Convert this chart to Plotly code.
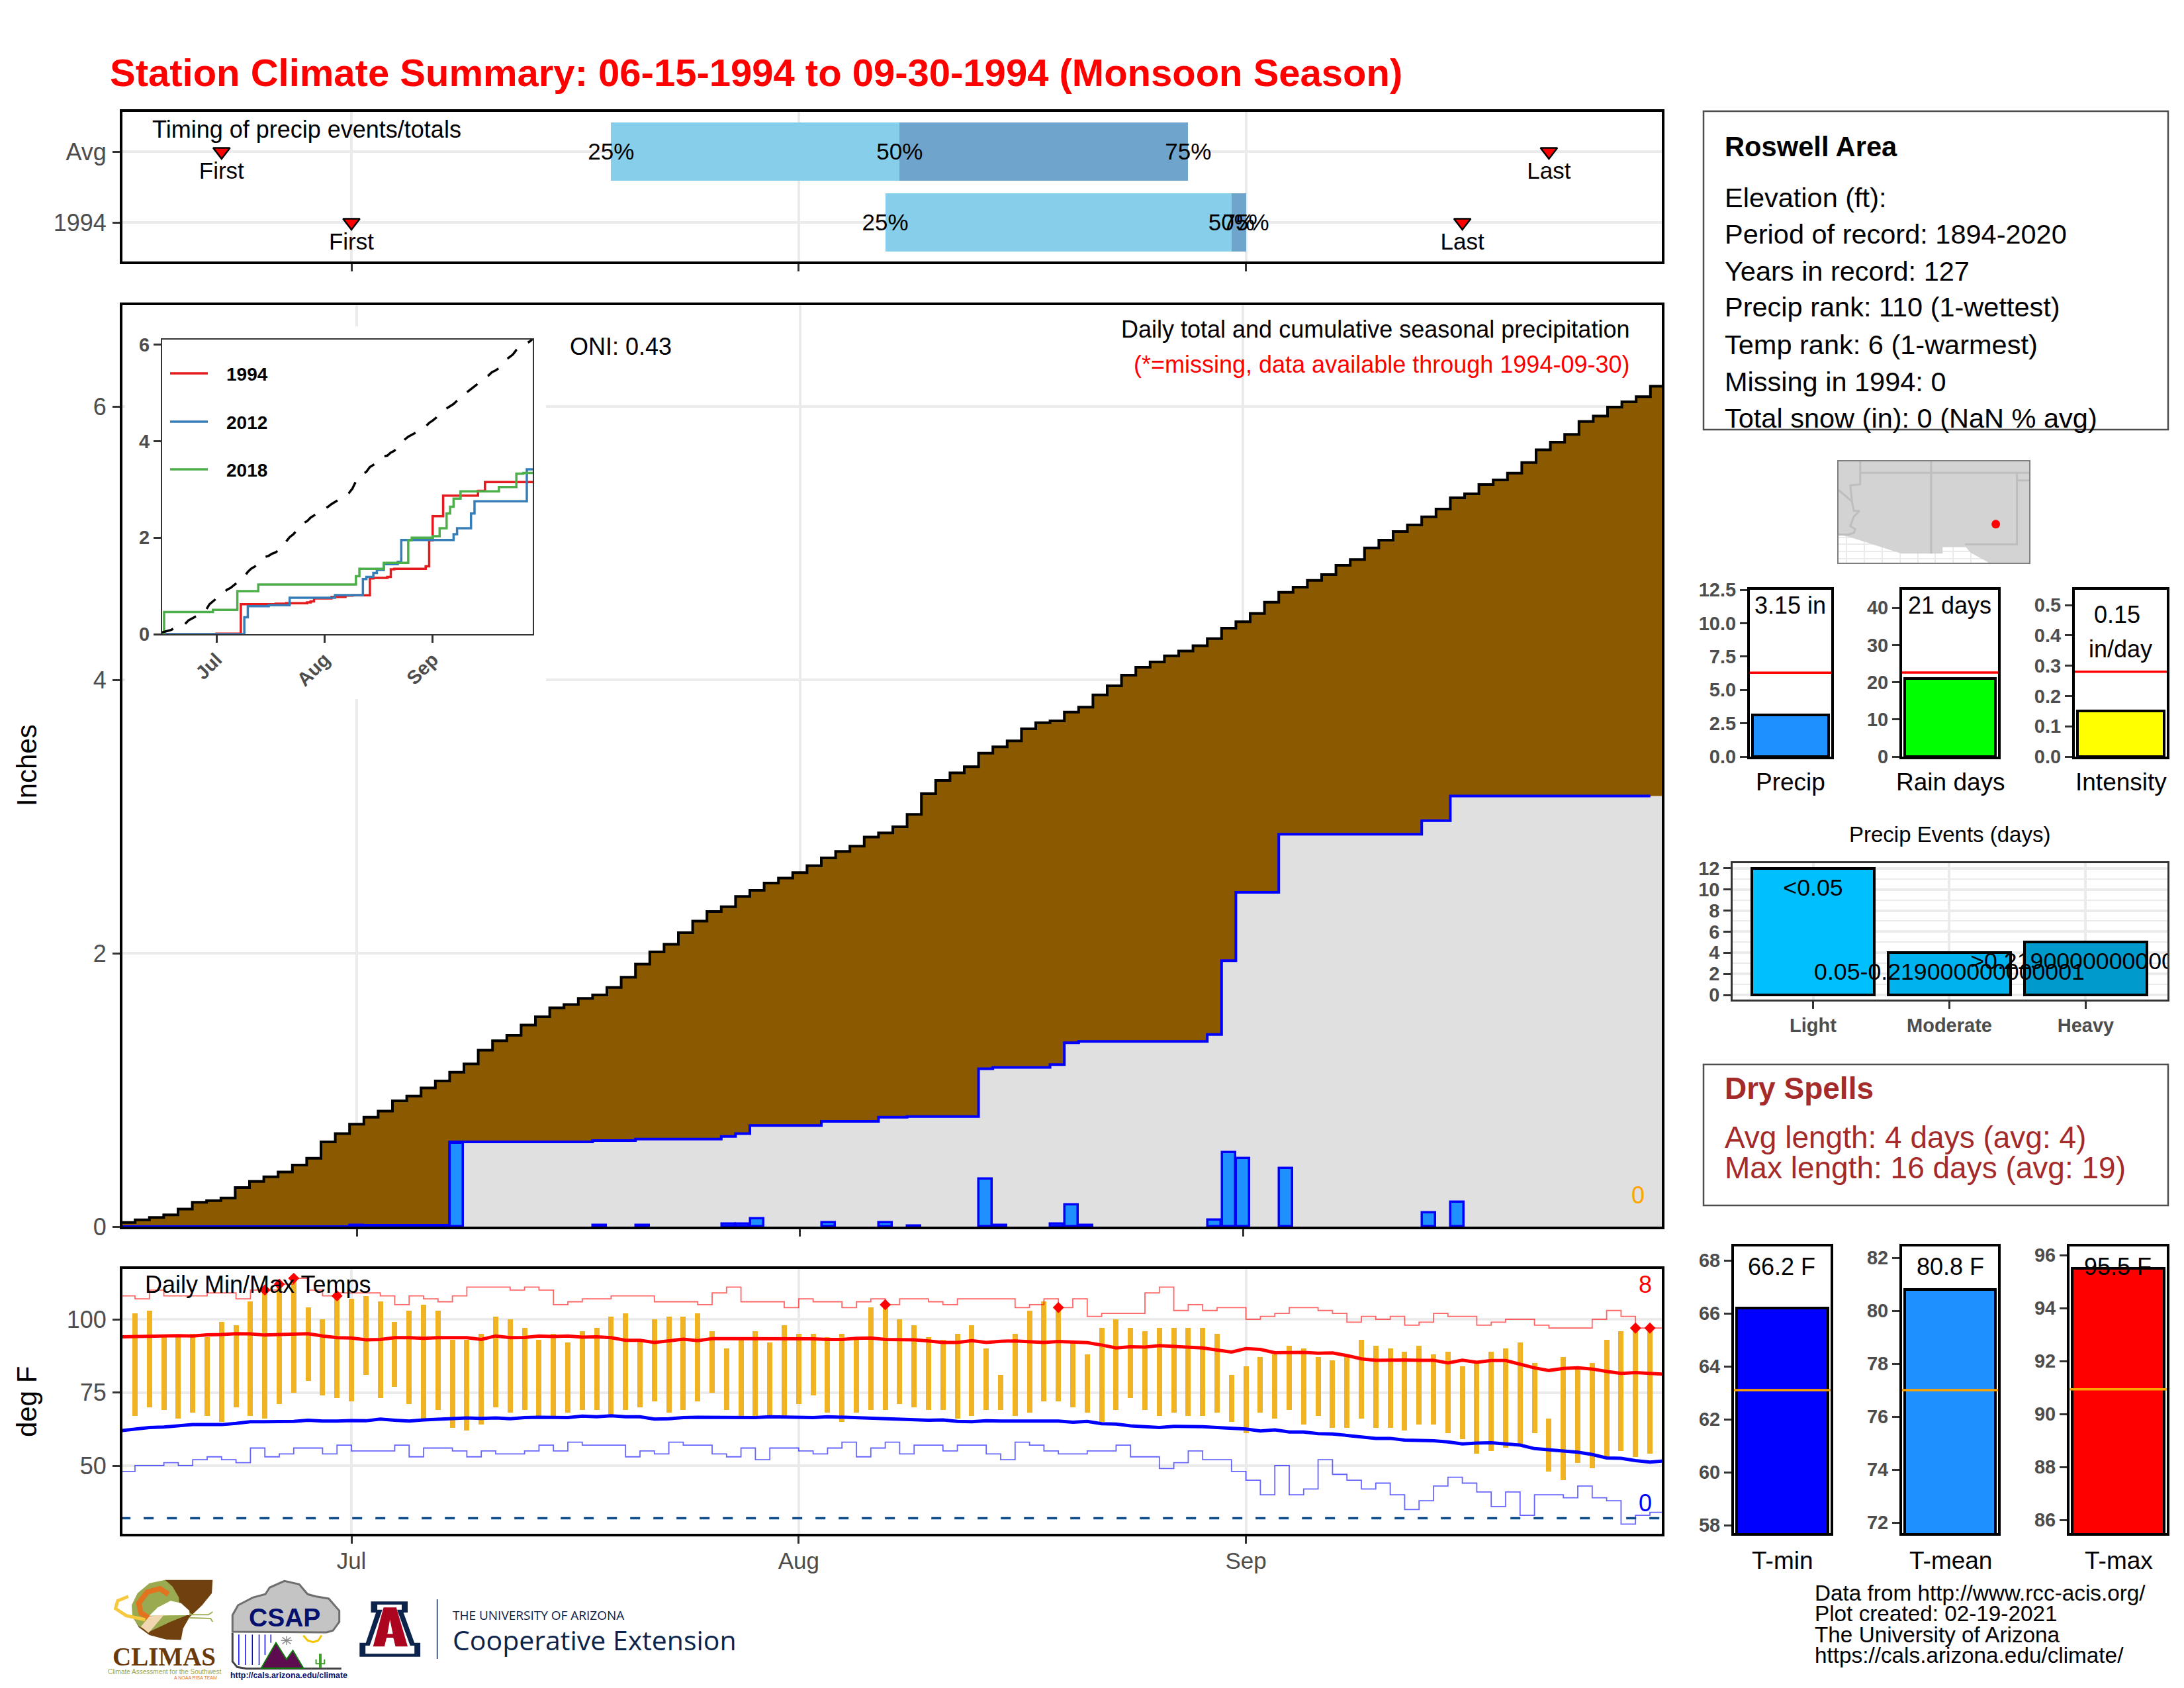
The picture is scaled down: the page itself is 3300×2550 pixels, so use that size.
import pandas as pd
import numpy as np
import plotly.graph_objects as go

# the browser page keeps its 8px body margin, so the figure is 8px smaller and all pixel maths subtracts it
PAGE_W, PAGE_H, BODY = 3300, 2550, 8
W, H = PAGE_W - BODY, PAGE_H - BODY
FONT = "Liberation Sans"
GRID = "#EBEBEB"
TICK = "#4D4D4D"

# ---- data ----
days = pd.date_range("1994-06-15", "1994-09-30")

# cumulative average precip, one value per day
avg_cum = [0.03, 0.05, 0.067, 0.086, 0.128, 0.178, 0.19, 0.21, 0.286, 0.33, 0.364, 0.40, 0.45, 0.50, 0.62,
           0.68, 0.75, 0.80, 0.845, 0.92, 0.955, 1.015, 1.065, 1.13, 1.19, 1.29, 1.36, 1.40, 1.475, 1.535,
           1.60, 1.625, 1.67, 1.695, 1.75, 1.825, 1.92, 2.01, 2.065, 2.15, 2.235, 2.305, 2.34, 2.415, 2.46,
           2.513, 2.55, 2.59, 2.64, 2.697, 2.744, 2.783, 2.85, 2.88, 2.925, 3.016, 3.167, 3.264, 3.32, 3.364,
           3.464, 3.51, 3.553, 3.642, 3.686, 3.70, 3.764, 3.80, 3.89, 3.956, 4.034, 4.092, 4.131, 4.176, 4.211,
           4.249, 4.302, 4.378, 4.425, 4.486, 4.568, 4.641, 4.678, 4.728, 4.77, 4.838, 4.88, 4.965, 5.022, 5.085,
           5.133, 5.193, 5.249, 5.332, 5.361, 5.429, 5.463, 5.512, 5.59, 5.683, 5.738, 5.795, 5.89, 5.93, 5.995,
           6.034, 6.072, 6.148]

# the 21 rain days of 1994
rain_dates = ["1994-07-01", "1994-07-08", "1994-07-18", "1994-07-21", "1994-07-27", "1994-07-28", "1994-07-29",
              "1994-08-03", "1994-08-07", "1994-08-09", "1994-08-14", "1994-08-15", "1994-08-19", "1994-08-20",
              "1994-08-21", "1994-08-30", "1994-08-31", "1994-09-01", "1994-09-04", "1994-09-14", "1994-09-16"]
rain_amounts = [0.01, 0.61, 0.01, 0.01, 0.02, 0.02, 0.06, 0.03, 0.03, 0.005, 0.35, 0.01, 0.02, 0.16, 0.01,
                0.05, 0.54, 0.50, 0.425, 0.10, 0.18]

# other years in the inset: date of each step and total after it
y2012_dates = ["1994-06-15", "1994-07-09", "1994-07-10", "1994-07-16", "1994-07-22", "1994-08-04", "1994-08-12",
               "1994-08-13", "1994-08-15", "1994-08-16", "1994-08-18", "1994-08-22", "1994-08-23", "1994-09-07",
               "1994-09-08", "1994-09-12", "1994-09-13", "1994-09-28", "1994-09-30"]
y2012_totals = [0, 0.35, 0.58, 0.60, 0.756, 0.81, 1.142, 1.187, 1.27, 1.33, 1.45, 1.50, 1.95, 2.07, 2.195, 2.50,
                2.755, 3.415, 3.415]
y2018_dates = ["1994-06-15", "1994-06-16", "1994-06-30", "1994-07-07", "1994-07-13", "1994-08-10", "1994-08-11",
               "1994-08-18", "1994-08-25", "1994-08-26", "1994-09-01", "1994-09-03", "1994-09-05", "1994-09-06",
               "1994-09-07", "1994-09-09", "1994-09-20", "1994-09-25", "1994-09-27", "1994-09-30"]
y2018_totals = [0, 0.46, 0.504, 0.89, 1.03, 1.20, 1.355, 1.478, 1.943, 2.0, 2.03, 2.195, 2.50, 2.64, 2.81, 2.96,
                3.05, 3.325, 3.34, 3.34]

# timing panel
timing_rows = [1, 0]
timing_labels = ["Avg", "1994"]
timing_first = ["1994-06-22", "1994-07-01"]
timing_q25 = ["1994-07-19", "1994-08-07"]
timing_q50 = ["1994-08-08", "1994-08-31"]
timing_q75 = ["1994-08-28", "1994-09-01"]
timing_last = ["1994-09-22", "1994-09-16"]

# daily temps for Jun 16 - Sep 29
tmax = [102, 103, 94, 94, 95, 94, 99, 98, 106, 110, 112, 114, 104, 100, 108,
        107, 108, 106, 99, 103, 105, 103, 93, 93, 95, 101, 100, 97, 93, 95, 92, 96, 97, 101, 102, 93, 100, 101, 101,
        102, 96, 90, 94, 96, 92, 98,
        95, 95, 94, 95, 93, 104, 105, 100, 98, 94, 93, 95, 98, 90, 81, 95, 103, 106, 104, 92, 88, 97, 100, 97, 96,
        97, 97, 97, 97, 95, 81,
        84, 87, 88, 91, 90, 87, 86, 87, 93, 91, 90, 89, 91, 88, 89, 84, 85, 89, 90, 92, 85, 66, 87, 84, 85, 93, 96,
        97, 97]
tmin = [67, 70, 69, 66, 68, 67, 65, 70, 67, 66, 71, 75, 79, 74, 73,
        72, 81, 73, 77, 71, 66, 69, 63, 62, 64, 70, 68, 69, 67, 67, 68, 69, 69, 67, 69, 70, 72, 68, 69, 72, 75, 69,
        67, 67, 67, 67,
        71, 74, 68, 65, 68, 69, 69, 71, 70, 69, 69, 66, 67, 69, 69, 67, 68, 72, 72, 70, 68, 65, 69, 73, 69, 67, 68,
        67, 67, 68, 65,
        61, 68, 66, 69, 64, 67, 63, 63, 66, 63, 63, 62, 64, 64, 61, 59, 54, 55, 56, 57, 61, 48, 45, 51, 49, 53, 55,
        53, 54]
avg_tmax = [94.0, 94.1, 94.4, 94.3, 94.4, 94.3, 94.7, 94.8, 95.1, 95.0, 94.6, 94.8, 95.0, 95.1, 94.3, 93.7, 93.6,
            93.0, 93.1, 93.7, 93.7, 93.5, 93.7, 93.7, 93.7, 93.1, 94.3, 93.7, 93.8, 94.3, 94.1, 94.3, 93.9, 94.0,
            93.7, 92.8, 92.8, 92.1, 92.7, 93.2, 92.7, 93.4, 93.4, 93.4, 93.4, 93.4, 93.4, 93.4, 93.3, 93.1, 93.1,
            93.5, 93.6, 93.1, 93.0, 93.0, 92.6, 92.1, 92.1, 92.7, 92.1, 92.5, 92.6, 92.3, 92.1, 92.4, 92.2, 92.0,
            91.2, 90.2, 90.6, 90.5, 91.0, 90.7, 90.3, 90.2, 89.5, 88.8, 90.0, 89.7, 88.6, 88.7, 88.7, 88.4, 88.5,
            87.6, 86.5, 86.0, 86.1, 86.1, 86.0, 86.0, 85.1, 86.0, 85.3, 85.9, 85.9, 84.7, 83.4, 82.5, 83.2, 83.4,
            83.0, 82.2, 81.5, 81.8, 81.6, 81.2]
avg_tmin = [61.9, 62.5, 63.0, 63.2, 63.7, 64.0, 64.0, 64.0, 64.4, 65.0, 65.0, 65.1, 65.1, 65.5, 65.2, 65.2, 65.4,
            65.3, 65.9, 65.5, 65.2, 65.6, 65.9, 66.2, 66.3, 66.1, 66.3, 66.0, 66.4, 66.5, 66.5, 66.4, 66.9, 66.7,
            67.0, 66.7, 66.7, 65.9, 66.0, 66.4, 66.5, 66.5, 66.5, 66.3, 66.4, 66.7, 66.6, 66.5, 66.4, 66.7, 66.5,
            66.4, 66.1, 66.1, 65.9, 65.5, 65.5, 65.6, 65.1, 65.0, 65.3, 65.2, 65.2, 65.2, 65.4, 65.2, 64.8, 65.1,
            64.3, 64.2, 63.6, 63.4, 63.0, 63.4, 63.4, 63.3, 63.0, 62.7, 62.5, 61.8, 62.2, 61.5, 61.5, 60.9, 60.8,
            60.3, 59.8, 59.3, 59.3, 58.7, 58.6, 58.5, 58.1, 57.4, 57.7, 57.8, 57.4, 57.0, 55.8, 55.3, 55.0, 54.6,
            53.8, 52.6, 52.5, 51.7, 51.2, 51.6]
rec_high = [108, 107, 110, 108, 108, 108, 109, 109, 107, 110, 110, 112, 114, 110, 108, 109,
            109, 109, 108, 105, 108, 107, 106, 108, 111, 111, 111, 110, 111, 110, 105, 106, 107, 107, 108, 108, 108,
            106, 106, 106, 105, 109, 111, 106, 106, 106, 104,
            107, 106, 106, 104, 106, 107, 105, 107, 107, 106, 105, 107, 107, 107, 107, 104, 105, 107, 104, 107, 101,
            102, 102, 102, 109, 111, 103, 105, 103, 104, 104,
            100, 101, 102, 104, 104, 103, 102, 99, 101, 100, 101, 98, 99, 102, 101, 101, 98, 99, 100, 100, 98, 97,
            97, 97, 100, 103, 101, 97, 97, 97]
rec_low = [48, 50, 50, 51, 50, 52, 53, 52, 51, 56, 53, 54, 56, 56, 54, 57,
           55, 55, 55, 57, 53, 56, 56, 55, 53, 55, 54, 54, 55, 57, 55, 58, 57, 57, 57, 53, 55, 54, 58, 57, 57, 54, 53,
           56, 52, 56, 56,
           55, 54, 56, 58, 53, 56, 58, 54, 57, 57, 55, 57, 57, 54, 52, 58, 57, 55, 54, 54, 55, 55, 57, 53, 53, 49, 51,
           55, 52, 52, 48,
           45, 40, 50, 40, 42, 52, 47, 45, 42, 44, 40, 35, 38, 43, 46, 44, 41, 36, 41, 33, 40, 40, 39, 43, 39, 38, 30,
           33, 34, 34]
near_record_dates = ["1994-06-25", "1994-06-26", "1994-06-27", "1994-06-30", "1994-08-07", "1994-08-19",
                     "1994-09-28", "1994-09-29"]
near_record_vals = [110, 112, 114, 108, 105, 104, 97, 97]
freezing = 32

# season summary bars
precip_vals = [3.15, 21, 0.15]
precip_avgs = [6.29, 22.6, 0.28]
precip_colors = ["#1E90FF", "#00FF00", "#FFFF00"]
event_labels = ["Light", "Moderate", "Heavy"]
event_counts = [12, 4, 5]
event_colors = ["#00BFFF", "#00B2EE", "#009ACD"]
event_texts = ["<0.05", "0.05-0.219000000000001", ">0.219000000000001"]
event_text_y = [10.0, 2.0, 3.0]
temp_vals = [66.2, 80.8, 95.5]
temp_avgs = [63.1, 77.0, 90.93]
temp_colors = ["#0000FF", "#1E90FF", "#FF0000"]

# locator map, lon/lat
land_lon = [-115.58, -114.86, -111.14, -108.24, -108.24, -106.61, -106.26, -104.98, -102.14, -102.14, -115.58]
land_lat = [32.69, 32.53, 31.36, 31.36, 31.81, 31.81, 31.41, 30.72, 30.72, 37.8, 37.8]
border_lon = [-115.58, -114.63, -114.5, -114.1, -114.5, -114.75, -114.4, -114.5, -114.86, -115.58, None,
              -114.05, -114.05, -114.75, -114.63, None, -114.05, -102.14, None, -109.05, -109.05, None,
              -103.0, -103.0, -106.65, None, -103.0, -102.14]
border_lat = [35.8, 35.0, 34.34, 34.34, 33.94, 33.28, 33.06, 32.8, 32.69, 32.69, None,
              37.8, 36.2, 36.12, 35.0, None, 37.0, 37.0, None, 37.8, 31.36, None,
              37.0, 32.0, 32.0, None, 36.47, 36.47]
site_lon = [-104.49]
site_lat = [33.41]

info_lines = ["Elevation (ft):", "Period of record: 1894-2020", "Years in record: 127",
              "Precip rank: 110 (1-wettest)", "Temp rank: 6 (1-warmest)", "Missing in 1994: 0",
              "Total snow (in): 0 (NaN % avg)"]
credit_lines = ["Data from http://www.rcc-acis.org/", "Plot created: 02-19-2021", "The University of Arizona",
                "https://cals.arizona.edu/climate/"]

assert len(avg_cum) == len(days) and len(avg_tmax) == len(days) and len(avg_tmin) == len(days)
assert len(rec_high) == len(days) and len(rec_low) == len(days) and len(tmax) == len(tmin) == 106


# ---- helpers, everything below is in page pixels ----
def xdom(a, b):
    return [(a - BODY) / W, (b - BODY) / W]


def ydom(top, bottom):
    return [1 - (bottom - BODY) / H, 1 - (top - BODY) / H]


def yval(px, p0, v0, scale):
    return v0 + (p0 - px) / scale


def date_at(px, jul1_px, px_per_day):
    return str(pd.Timestamp("1994-07-01") + pd.Timedelta(days=(px - jul1_px) / px_per_day))


def label(x, y, text, size=36, color="black", anchor="center", bold=False, family=FONT, angle=0):
    fig.add_annotation(xref="x13", yref="y13", x=x, y=y, text=f"<b>{text}</b>" if bold else text, showarrow=False,
                       xanchor=anchor, yanchor="middle", textangle=angle, font=dict(family=family, size=size, color=color))


def poly(points, fill=None, line=None, width=0, closed=True):
    path = "M " + " L ".join(f"{x:.1f} {y:.1f}" for x, y in points) + (" Z" if closed else "")
    fig.add_shape(type="path", path=path, xref="x13", yref="y13", layer="above", fillcolor=fill or "rgba(0,0,0,0)",
                  line=dict(color=line or "rgba(0,0,0,0)", width=width))


def logo(points, **kw):
    poly([(130 + zx / 1.568, 2350 + zy / 3) for zx, zy in points], **kw)


fig = go.Figure()
# template none: the default template switches axis automargin on, which squeezes the panels
fig.update_layout(template="none", width=W, height=H, margin=dict(l=0, r=0, t=0, b=0), autosize=False, showlegend=False,
                  paper_bgcolor="white", plot_bgcolor="rgba(0,0,0,0)", font=dict(family=FONT, color="black"), bargap=0,
                  barmode="overlay")

jul_aug_sep = ["1994-07-01", "1994-08-01", "1994-09-01"]
month_labels = ["Jul", "Aug", "Sep"]
tick_font = dict(family=FONT, size=36, color=TICK)
bold_font = dict(family=FONT, size=29, color=TICK, weight="bold")
frame = dict(showline=True, linecolor="black", linewidth=4, mirror=True, zeroline=False)
ticks = dict(ticks="outside", ticklen=11, tickwidth=3, tickcolor="#333333")


def set_axes(n, xd, yd, xa, ya):
    s = "" if n == 1 else str(n)
    fig.layout["xaxis" + s] = dict(domain=xd, anchor="y" + s, fixedrange=True, **xa)
    fig.layout["yaxis" + s] = dict(domain=yd, anchor="x" + s, fixedrange=True, **ya)


# ---- timing panel ----
date_ax = dict(tickmode="array", tickvals=jul_aug_sep, showgrid=True, gridcolor=GRID, gridwidth=4, type="date", **frame, **ticks)
set_axes(1, xdom(185, 2511), ydom(169, 395),
         dict(range=[date_at(185, 531, 21.8), date_at(2511, 531, 21.8)], ticktext=["", "", ""], **date_ax),
         dict(range=[yval(395, 336, 0, 107), yval(169, 336, 0, 107)], tickvals=timing_rows, ticktext=timing_labels,
              tickfont=tick_font, ticklabelstandoff=2, showgrid=True, gridcolor=GRID, gridwidth=4, **frame, **ticks))
for starts, ends, color in [(timing_q25, timing_q50, "#87CEEB"), (timing_q50, timing_q75, "#6FA5CC")]:
    fig.add_trace(go.Bar(y=timing_rows, orientation="h", base=starts, width=0.82,
                         x=[(pd.Timestamp(e) - pd.Timestamp(s)).total_seconds() * 1000 for s, e in zip(starts, ends)],
                         marker=dict(color=color, line=dict(width=0)), xaxis="x", yaxis="y"))
for dates, pct in ((timing_q25, "25%"), (timing_q50, "50%"), (timing_q75, "75%")):
    # labels sit a touch under the row centre
    fig.add_trace(go.Scatter(x=dates, y=[r - 0.035 for r in timing_rows], mode="text", text=[pct, pct], textposition="middle center",
                             textfont=dict(family=FONT, size=35, color="black"), cliponaxis=False, xaxis="x", yaxis="y"))
for dates, word in ((timing_first, "First"), (timing_last, "Last")):
    fig.add_trace(go.Scatter(x=dates, y=timing_rows, mode="markers+text", text=[word, word],
                             textposition="bottom center", textfont=dict(family=FONT, size=35, color="black"),
                             marker=dict(symbol="triangle-down", size=22, color="#FF0000", line=dict(color="black", width=2.5)),
                             cliponaxis=False, xaxis="x", yaxis="y"))

# ---- cumulative precip panel ----
daily = pd.Series(0.0, index=days)
daily[pd.to_datetime(rain_dates)] = rain_amounts
cum_1994 = daily.cumsum().round(3).tolist()
step_x = list(days - pd.Timedelta(hours=12)) + [days[-1] + pd.Timedelta(hours=12)]

main_x = [date_at(185, 539, 21.6), date_at(2511, 539, 21.6)]
main_y = [0, yval(461, 1853, 0, 206.5)]
set_axes(2, xdom(185, 2511), ydom(461, 1853),
         dict(range=main_x, ticktext=["", "", ""], **date_ax),
         dict(range=main_y, tickvals=[0, 2, 4, 6], tickfont=tick_font, ticklabelstandoff=2, showgrid=True, gridcolor=GRID,
              gridwidth=4, **frame, **ticks))
# white patch behind the inset, it hides the main gridlines
box_x = [date_at(px, 539, 21.6) for px in (189, 825, 825, 189, 189)]
box_y = [yval(py, 1853, 0, 206.5) for py in (493, 493, 1056, 1056, 493)]
fig.add_trace(go.Scatter(x=box_x, y=box_y, mode="lines", fill="toself", fillcolor="white", line=dict(width=0),
                         xaxis="x2", yaxis="y2"))
fig.add_trace(go.Scatter(x=step_x, y=cum_1994 + cum_1994[-1:], mode="lines", line=dict(shape="hv", width=0),
                         fill="tozeroy", fillcolor="#E0E0E0", xaxis="x2", yaxis="y2"))
fig.add_trace(go.Scatter(x=step_x, y=avg_cum + avg_cum[-1:], mode="lines", line=dict(shape="hv", width=4, color="black"),
                         fill="tonexty", fillcolor="#8B5A00", xaxis="x2", yaxis="y2"))
fig.add_trace(go.Scatter(x=step_x[:-1], y=cum_1994[:-1] + cum_1994[-2:-1], mode="lines",
                         line=dict(shape="hv", width=4, color="#0000FF"), xaxis="x2", yaxis="y2"))
# bars would sit under the ribbon fills on the same axes, so they get a twin pair drawn later
set_axes(14, xdom(185, 2511), ydom(461, 1853), dict(range=main_x, type="date", visible=False), dict(range=main_y, visible=False))
fig.add_trace(go.Bar(x=rain_dates, y=rain_amounts, width=0.92 * 86400000,
                     marker=dict(color="#1E90FF", line=dict(color="#0000FF", width=3.5)), xaxis="x14", yaxis="y14"))

# ---- inset ----
thin = dict(showline=True, linecolor="#333333", linewidth=2, mirror=True, zeroline=False, showgrid=False)
set_axes(3, xdom(245, 805), ydom(513, 958),
         dict(range=[date_at(245, 327, 5.27), date_at(805, 327, 5.27)], type="date", tickmode="array", tickvals=jul_aug_sep,
              ticktext=month_labels, tickangle=-45, ticklabelstandoff=-3, tickfont=bold_font, **thin, **ticks),
         dict(range=[0, yval(513, 958, 0, 72.9)], tickvals=[0, 2, 4, 6], tickfont=bold_font, **thin, **ticks))
fig.add_trace(go.Scatter(x=days, y=cum_1994, mode="lines", line=dict(shape="hv", width=3.5, color="#E41A1C"), xaxis="x3", yaxis="y3"))
fig.add_trace(go.Scatter(x=y2012_dates, y=y2012_totals, mode="lines", line=dict(shape="hv", width=3.5, color="#377EB8"), xaxis="x3", yaxis="y3"))
fig.add_trace(go.Scatter(x=y2018_dates, y=y2018_totals, mode="lines", line=dict(shape="hv", width=3.5, color="#4DAF4A"), xaxis="x3", yaxis="y3"))
fig.add_trace(go.Scatter(x=days, y=avg_cum, mode="lines", line=dict(width=3.5, color="black", dash="20px,20px"), xaxis="x3", yaxis="y3"))

# ---- daily temps ----
set_axes(4, xdom(185, 2511), ydom(1917, 2317),
         dict(range=[date_at(185, 531, 21.8), date_at(2511, 531, 21.8)], ticktext=month_labels, ticklabelstandoff=-4,
              tickfont=dict(family=FONT, size=35, color=TICK), **date_ax),
         dict(range=[yval(2317, 2214, 50, 4.42), yval(1917, 2214, 50, 4.42)], tickvals=[50, 75, 100],
              tickfont=tick_font, ticklabelstandoff=2, showgrid=True, gridcolor=GRID, gridwidth=4, **frame, **ticks))
fig.add_trace(go.Scatter(x=days, y=rec_high, mode="lines", line=dict(shape="hv", width=1.8, color="rgba(255,0,0,0.6)"), xaxis="x4", yaxis="y4"))
fig.add_trace(go.Scatter(x=days, y=rec_low, mode="lines", line=dict(shape="hv", width=1.8, color="rgba(0,0,255,0.6)"), xaxis="x4", yaxis="y4"))
fig.add_trace(go.Bar(x=days[1:107], base=tmin, y=[a - b for a, b in zip(tmax, tmin)], width=0.37 * 86400000,
                     marker=dict(color="#F0B323", line=dict(width=0)), xaxis="x4", yaxis="y4"))
fig.add_trace(go.Scatter(x=[days[0], days[-1]], y=[freezing, freezing], mode="lines",
                         line=dict(width=3.5, color="#104E8B", dash="15px,20px"), xaxis="x4", yaxis="y4"))
fig.add_trace(go.Scatter(x=days, y=avg_tmax, mode="lines", line=dict(width=5, color="#FF0000"), xaxis="x4", yaxis="y4"))
fig.add_trace(go.Scatter(x=days, y=avg_tmin, mode="lines", line=dict(width=5, color="#0000FF"), xaxis="x4", yaxis="y4"))
fig.add_trace(go.Scatter(x=near_record_dates, y=near_record_vals, mode="markers", marker=dict(symbol="diamond", size=13, color="#FF0000"),
                         cliponaxis=False, xaxis="x4", yaxis="y4"))

# ---- precip summary bars ----
hidden_x = dict(range=[-0.5, 0.5], showticklabels=False, ticks="", showgrid=False, **frame)
panels = [(5, 2644, 2767, 20.16, [0, 2.5, 5, 7.5, 10, 12.5], ["0.0", "2.5", "5.0", "7.5", "10.0", "12.5"]),
          (6, 2874, 3019, 5.62, [0, 10, 20, 30, 40], ["0", "10", "20", "30", "40"]),
          (7, 3135, 3274, 458, [0, 0.1, 0.2, 0.3, 0.4, 0.5], ["0.0", "0.1", "0.2", "0.3", "0.4", "0.5"])]
for i, (n, x0, x1, scale, tv, tt) in enumerate(panels):
    set_axes(n, xdom(x0, x1), ydom(891, 1143), hidden_x,
             dict(range=[0, yval(891, 1143, 0, scale)], tickvals=tv, ticktext=tt, tickfont=bold_font,
                  showgrid=False, **frame, **ticks))
    fig.add_trace(go.Bar(x=[0], y=[precip_vals[i]], width=0.94, marker=dict(color=precip_colors[i], line=dict(color="black", width=4)),
                         xaxis=f"x{n}", yaxis=f"y{n}"))
    fig.add_trace(go.Scatter(x=[-0.5, 0.5], y=[precip_avgs[i]] * 2, mode="lines", line=dict(color="#FF0000", width=3.5),
                             xaxis=f"x{n}", yaxis=f"y{n}"))

# ---- precip events ----
set_axes(8, xdom(2618, 3275), ydom(1304, 1510),
         dict(range=[-0.59, 2.6], tickmode="array", tickvals=[0, 1, 2], ticktext=event_labels, tickfont=bold_font, showline=True,
              linecolor="#333333", linewidth=2.5, mirror=True, zeroline=False, showgrid=True, gridcolor=GRID, gridwidth=3.5, **ticks),
         dict(range=[yval(1510, 1503, 0, 15.93), yval(1304, 1503, 0, 15.93)], tickmode="array", tickvals=[0, 2, 4, 6, 8, 10, 12],
              tickfont=bold_font, showline=True, linecolor="#333333", linewidth=2.5, mirror=True, zeroline=False, showgrid=True,
              gridcolor=GRID, gridwidth=3.5, minor=dict(tickmode="array", tickvals=[1, 3, 5, 7, 9, 11], showgrid=True, gridcolor=GRID, gridwidth=1.8, ticks=""), **ticks))
fig.add_trace(go.Bar(x=[0, 1, 2], y=event_counts, width=0.9, marker=dict(color=event_colors, line=dict(color="black", width=4)), xaxis="x8", yaxis="y8"))
fig.add_trace(go.Scatter(x=[0, 1, 2], y=event_text_y, mode="text", text=event_texts, textposition="middle center",
                         textfont=dict(family=FONT, size=35.7, color="black"), cliponaxis=True, xaxis="x8", yaxis="y8"))

# ---- temperature summary bars ----
temp_panels = [(9, 2620, 2766, 2304, 58, [58, 60, 62, 64, 66, 68]),
               (10, 2874, 3019, 2300, 72, [72, 74, 76, 78, 80, 82]),
               (11, 3127, 3274, 2296, 86, [86, 88, 90, 92, 94, 96])]
for i, (n, x0, x1, p0, v0, tv) in enumerate(temp_panels):
    set_axes(n, xdom(x0, x1), ydom(1883, 2316), hidden_x,
             dict(range=[yval(2316, p0, v0, 40), yval(1883, p0, v0, 40)], tickvals=tv, tickfont=bold_font, showgrid=False, **frame, **ticks))
    fig.add_trace(go.Bar(x=[0], y=[temp_vals[i]], width=0.94, marker=dict(color=temp_colors[i], line=dict(color="black", width=4)),
                         xaxis=f"x{n}", yaxis=f"y{n}"))
    fig.add_trace(go.Scatter(x=[-0.5, 0.5], y=[temp_avgs[i]] * 2, mode="lines", line=dict(color="#FFA500", width=3.5),
                             xaxis=f"x{n}", yaxis=f"y{n}"))

# ---- locator map ----
set_axes(12, xdom(2778, 3066), ydom(697, 850),
         dict(range=[-115.58, -102.14], showticklabels=False, ticks="", dtick=1.25, tick0=-115, showgrid=True, gridcolor=GRID, gridwidth=1.5,
              showline=True, linecolor="#7F7F7F", linewidth=1.5, mirror=True, zeroline=False),
         dict(range=[30.72, 37.8], showticklabels=False, ticks="", dtick=0.5, tick0=30, showgrid=True, gridcolor=GRID, gridwidth=1.5,
              showline=True, linecolor="#7F7F7F", linewidth=1.5, mirror=True, zeroline=False))
fig.add_trace(go.Scatter(x=land_lon, y=land_lat, mode="lines", fill="toself", fillcolor="#D3D3D3", line=dict(width=0), xaxis="x12", yaxis="y12"))
fig.add_trace(go.Scatter(x=border_lon, y=border_lat, mode="lines", line=dict(color="#BEBEBE", width=3), xaxis="x12", yaxis="y12"))
fig.add_trace(go.Scatter(x=site_lon, y=site_lat, mode="markers", marker=dict(color="#FF0000", size=13), xaxis="x12", yaxis="y12"))

# ---- page-wide overlay for labels, boxes and logos ----
set_axes(13, [0, 1], [0, 1], dict(range=[BODY, PAGE_W], visible=False), dict(range=[PAGE_H, BODY], visible=False))
fig.add_trace(go.Scatter(x=[BODY], y=[20], mode="markers", marker=dict(opacity=0), xaxis="x13", yaxis="y13"))

label(164, 109, "Station Climate Summary: 06-15-1994 to 09-30-1994 (Monsoon Season)", size=58, color="#FF0000", anchor="left", bold=True)
label(228, 195, "Timing of precip events/totals", anchor="left")
label(2464, 497, "Daily total and cumulative seasonal precipitation", anchor="right")
label(2464, 550, "(*=missing, data available through 1994-09-30)", color="#FF0000", anchor="right")
label(859, 523, "ONI: 0.43", anchor="left")
label(2475, 1805, "0", color="#FFA500")
label(217, 1940, "Daily Min/Max Temps", anchor="left")
label(2486, 1940, "8", color="#FF0000")
label(2486, 2270, "0", color="#0000FF")
label(40, 1156, "Inches", size=42, angle=-90)
label(40, 2118, "deg F", size=42, angle=-90)

# inset legend
for y, color, year in [(564, "#E41A1C", "1994"), (637, "#377EB8", "2012"), (709, "#4DAF4A", "2018")]:
    poly([(257, y), (314, y)], line=color, width=3.5, closed=False)
    label(340, y + 1, year, size=28, anchor="left", bold=True)

# info box
poly([(2574, 168), (3276, 168), (3276, 649), (2574, 649)], line="#4D4D4D", width=2.5)
label(2604, 221, "Roswell Area", size=41.7, anchor="left", bold=True)
for y, line in zip([298, 353, 409, 463, 520, 576, 631], info_lines):
    label(2604, y, line, size=41.5, anchor="left")

# dry spells box
poly([(2574, 1608), (3276, 1608), (3276, 1821), (2574, 1821)], line="#4D4D4D", width=2.5)
label(2604, 1644, "Dry Spells", size=46, color="#A52A2A", anchor="left", bold=True)
label(2604, 1718, "Avg length: 4 days (avg: 4)", size=46, color="#A52A2A", anchor="left")
label(2604, 1764, "Max length: 16 days (avg: 19)", size=46, color="#A52A2A", anchor="left")

# summary bar labels
label(2705, 914, "3.15 in")
label(2946, 914, "21 days")
label(3199, 928, "0.15")
label(3204, 980, "in/day")
label(2705, 1181, "Precip", size=37)
label(2947, 1181, "Rain days", size=37)
label(3205, 1181, "Intensity", size=37)
label(2946, 1260, "Precip Events (days)", size=33)
label(2692, 1913, "66.2 F")
label(2947, 1913, "80.8 F")
label(3200, 1913, "95.5 F")
label(2693, 2357, "T-min", size=37)
label(2947, 2357, "T-mean", size=37)
label(3201, 2357, "T-max", size=37)
for y, line in zip([2406, 2437, 2469, 2500], credit_lines):
    label(2740, y, line, size=33.3, anchor="left")

# CLIMAS logo
logo([(187, 110), (300, 110), (298, 170), (275, 225), (245, 280), (230, 330), (225, 382), (190, 380), (150, 360), (125, 325), (115, 290)], fill="#70400F")
logo([(187, 110), (150, 125), (122, 170), (108, 225), (110, 280), (125, 320), (150, 345), (200, 300), (250, 262), (222, 240), (220, 190), (205, 140)], fill="#9AAA50")
logo([(195, 175), (175, 150), (145, 165), (125, 215), (130, 260), (155, 290)], line="#E2731F", width=8, closed=False)
logo([(150, 272), (170, 235), (200, 205), (225, 215), (245, 250), (245, 270)], fill="white")
logo([(130, 322), (150, 275), (185, 268), (162, 320), (148, 350)], fill="#F0D7B0")
logo([(100, 185), (75, 205), (70, 240), (95, 272), (140, 290)], line="#F7C93E", width=5, closed=False)
logo([(245, 268), (290, 268), (300, 255)], line="#A3B159", width=2, closed=False)
logo([(245, 282), (295, 285), (300, 300)], line="#A3B159", width=2, closed=False)
label(248, 2502, "CLIMAS", size=39, color="#6B3A0B", family="Liberation Serif", bold=True)
label(248, 2525, "Climate Assessment for the Southwest", size=10, color="#9AA852")
label(295, 2534, "A NOAA RISA TEAM", size=7, color="#E2731F")

# CSAP logo
logo([(347, 345), (347, 270), (360, 225), (395, 190), (425, 175), (435, 145), (470, 115), (505, 130), (525, 175), (545, 185), (575, 195), (600, 250), (600, 300), (585, 340), (570, 348)],
     fill="#C4C4C4", line="#6E6E6E", width=3)
label(430, 2443, "CSAP", size=39, color="#06106E", bold=True)
for zx, bottom in [(362, 495), (378, 495), (394, 495), (410, 495), (424, 450), (438, 395)]:
    logo([(zx, 358), (zx, bottom)], line="#0000FF", width=1.5, closed=False)
logo([(347, 350), (347, 480), (358, 505), (380, 512), (605, 512)], line="#444444", width=3, closed=False)
logo([(415, 510), (450, 395), (475, 470), (490, 430), (515, 510)], fill="#5E0B4F", line="#0E7A0E", width=2)
logo([(462, 385), (488, 385)], line="#8C8C8C", width=1.5, closed=False)
logo([(475, 365), (475, 405)], line="#8C8C8C", width=1.5, closed=False)
logo([(465, 370), (485, 400)], line="#8C8C8C", width=1.5, closed=False)
logo([(465, 400), (485, 370)], line="#8C8C8C", width=1.5, closed=False)
logo([(515, 362), (525, 385), (538, 392), (550, 385), (558, 362)], line="#F2C500", width=3, closed=False)
logo([(555, 445), (555, 510)], line="#3F9E28", width=4, closed=False)
logo([(545, 470), (545, 490), (565, 490), (565, 470)], line="#3F9E28", width=2, closed=False)
label(436, 2531, "http://cals.arizona.edu/climate", size=12.4, color="#06106E", bold=True)

# University of Arizona logo
logo([(675, 208), (762, 208), (762, 258), (752, 258), (778, 395), (792, 395), (792, 458), (648, 458), (648, 395), (663, 395), (687, 258), (675, 258)], fill="#0C234B")
logo([(690, 222), (748, 222), (748, 245), (737, 245), (768, 408), (778, 408), (778, 445), (662, 445), (662, 408), (672, 408), (702, 245), (690, 245)], fill="white")
logo([(705, 235), (735, 235), (762, 412), (733, 412), (728, 372), (712, 372), (707, 412), (680, 412)], fill="#AB0520")
logo([(720, 290), (727, 355), (714, 355)], fill="white")
logo([(832, 198), (832, 468)], line="#0C234B", width=1.5, closed=False)
label(682, 2440, "THE UNIVERSITY OF ARIZONA", size=19, color="#0C234B", anchor="left", family="Open Sans")
label(682, 2477, "Cooperative Extension", size=41, color="#0C234B", anchor="left", family="Open Sans")

fig.write_html("out.html")
